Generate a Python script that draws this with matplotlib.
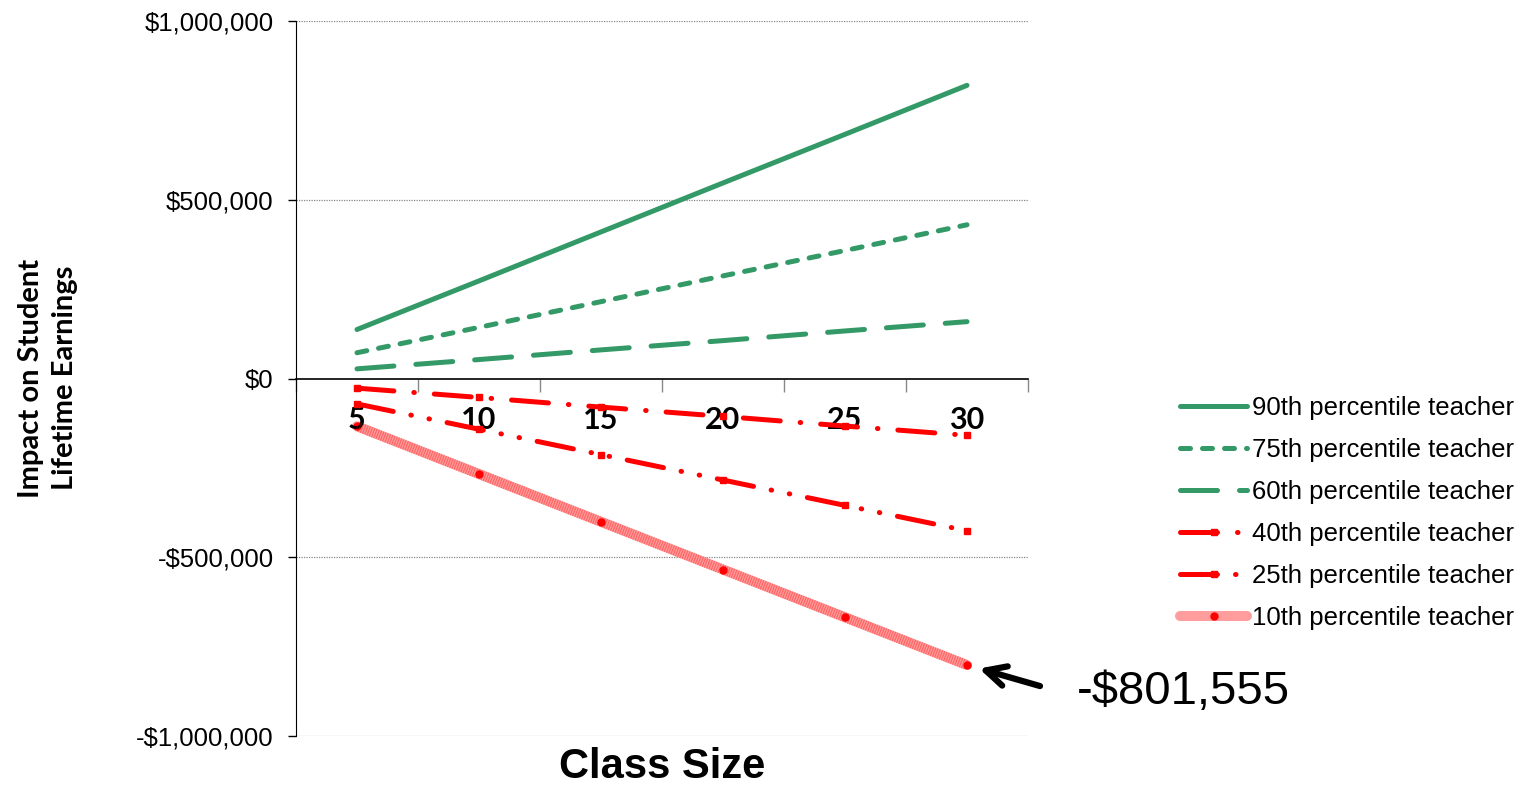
import matplotlib.pyplot as plt
from matplotlib.ticker import FuncFormatter, FixedLocator

class_sizes = ["5", "10", "15", "20", "25", "30"]

p90 = [137000, 273000, 410000, 547000, 683000, 820000]
p75 = [72000, 143000, 215000, 287000, 358000, 430000]
p60 = [27000, 53000, 80000, 106000, 133000, 159000]
p40 = [-27000, -53000, -80000, -106000, -133000, -159000]
p25 = [-71000, -142000, -213000, -284000, -355000, -426000]
p10 = [-133593, -267185, -400778, -534370, -667963, -801555]

labels = ["90th percentile teacher", "75th percentile teacher", "60th percentile teacher",
          "40th percentile teacher", "25th percentile teacher", "10th percentile teacher"]

green = "#339966"
red = "#ff0000"

fig = plt.figure(figsize=(15.34, 7.87), dpi=100)
ax = fig.add_axes([296 / 1534, 1 - 736 / 787, (1028 - 296) / 1534, (736 - 21) / 787])

x = list(range(len(class_sizes)))
lw = 3.6

ax.plot(x, p90, color=green, lw=lw, solid_capstyle="round", label=labels[0])
ax.plot(x, p75, color=green, lw=lw, linestyle=(0, (2.0, 2.4)), dash_capstyle="round", label=labels[1])
ax.plot(x, p60, color=green, lw=lw, linestyle=(0, (7.4, 4.4)), dash_capstyle="round", label=labels[2])
ax.plot(x, p40, color=red, lw=lw, linestyle=(0, (7.4, 4.0, 0.1, 4.0)), dash_capstyle="round",
        marker="s", markersize=4.5, label=labels[3])
ax.plot(x, p25, color=red, lw=lw, linestyle=(0, (7.4, 3.6, 0.1, 3.6, 0.1, 3.6)), dash_capstyle="round",
        marker="s", markersize=4.5, label=labels[4])
ax.plot(x, p10, color="#ff9c9c", lw=7.2, solid_capstyle="round", marker="o", markersize=5,
        markerfacecolor=red, markeredgecolor=red, label=labels[5], zorder=1.5)
# speckled texture on top of the 10th percentile band
ax.plot(x, p10, color=red, lw=7.2, alpha=0.35, linestyle=(0, (0.12, 0.12)), zorder=1.6)

ax.set_xlim(-0.5, len(class_sizes) - 0.5)
ax.set_ylim(-1000000, 1000000)
ax.set_yticks([-1000000, -500000, 0, 500000, 1000000])


def money(v, pos):
    v = int(round(v))
    return f"-${abs(v):,}" if v < 0 else f"${v:,}"


ax.yaxis.set_major_formatter(FuncFormatter(money))
ax.tick_params(axis="y", direction="out", length=6, width=1, pad=10, labelsize=18.5)

ax.xaxis.set_minor_locator(FixedLocator([i - 0.5 for i in range(len(class_sizes) + 1)]))
ax.tick_params(axis="x", which="minor", direction="out", length=9, width=1, color="#888888")
ax.tick_params(axis="x", which="major", length=0, pad=20, labelsize=22)
ax.set_xticks(x)
ax.set_xticklabels(class_sizes)

ax.spines["top"].set_visible(False)
ax.spines["right"].set_visible(False)
ax.spines["bottom"].set_position(("data", 0))
ax.spines["bottom"].set_linewidth(1.2)

for gy in [-1000000, -500000, 500000, 1000000]:
    ax.axhline(gy, color="#888888", linestyle=(0, (1, 1)), lw=0.9, zorder=0)

# callout on the last 10th percentile value
last = p10[-1]
ax.annotate("", xy=(x[-1], last), xytext=(73, -21), textcoords="offset pixels",
            arrowprops=dict(arrowstyle="->", lw=4.5, color="black", mutation_scale=36,
                            shrinkA=0, shrinkB=9))
ax.annotate(f"-${abs(last):,}", xy=(x[-1], last), xytext=(110, -27), textcoords="offset pixels",
            fontsize=34, fontfamily="Liberation Sans", va="center", ha="left")

fig.text(48 / 1534, 1 - 378 / 787, "Impact on Student\nLifetime Earnings", rotation=90,
         ha="center", va="center", multialignment="center", fontsize=21,
         fontweight="bold", fontfamily="Lato", linespacing=1.4)
fig.text(662 / 1534, 1 - 767 / 787, "Class Size", ha="center", va="center",
         fontsize=30, fontweight="bold", fontfamily="Liberation Sans")

ax.legend(loc="center left", bbox_to_anchor=(1170 / 1534, 1 - 513 / 787), bbox_transform=fig.transFigure,
          frameon=False, prop={"family": "Liberation Sans", "size": 18.5}, handlelength=2.6,
          handletextpad=0.2, labelspacing=0.7, numpoints=1, borderaxespad=0)

fig.canvas.draw()
for t in ax.get_yticklabels():
    t.set_fontfamily("Liberation Sans")
for t in ax.get_xticklabels():
    t.set_fontfamily("Lato")
    t.set_fontweight("bold")

fig.savefig("out.png", dpi=100)
